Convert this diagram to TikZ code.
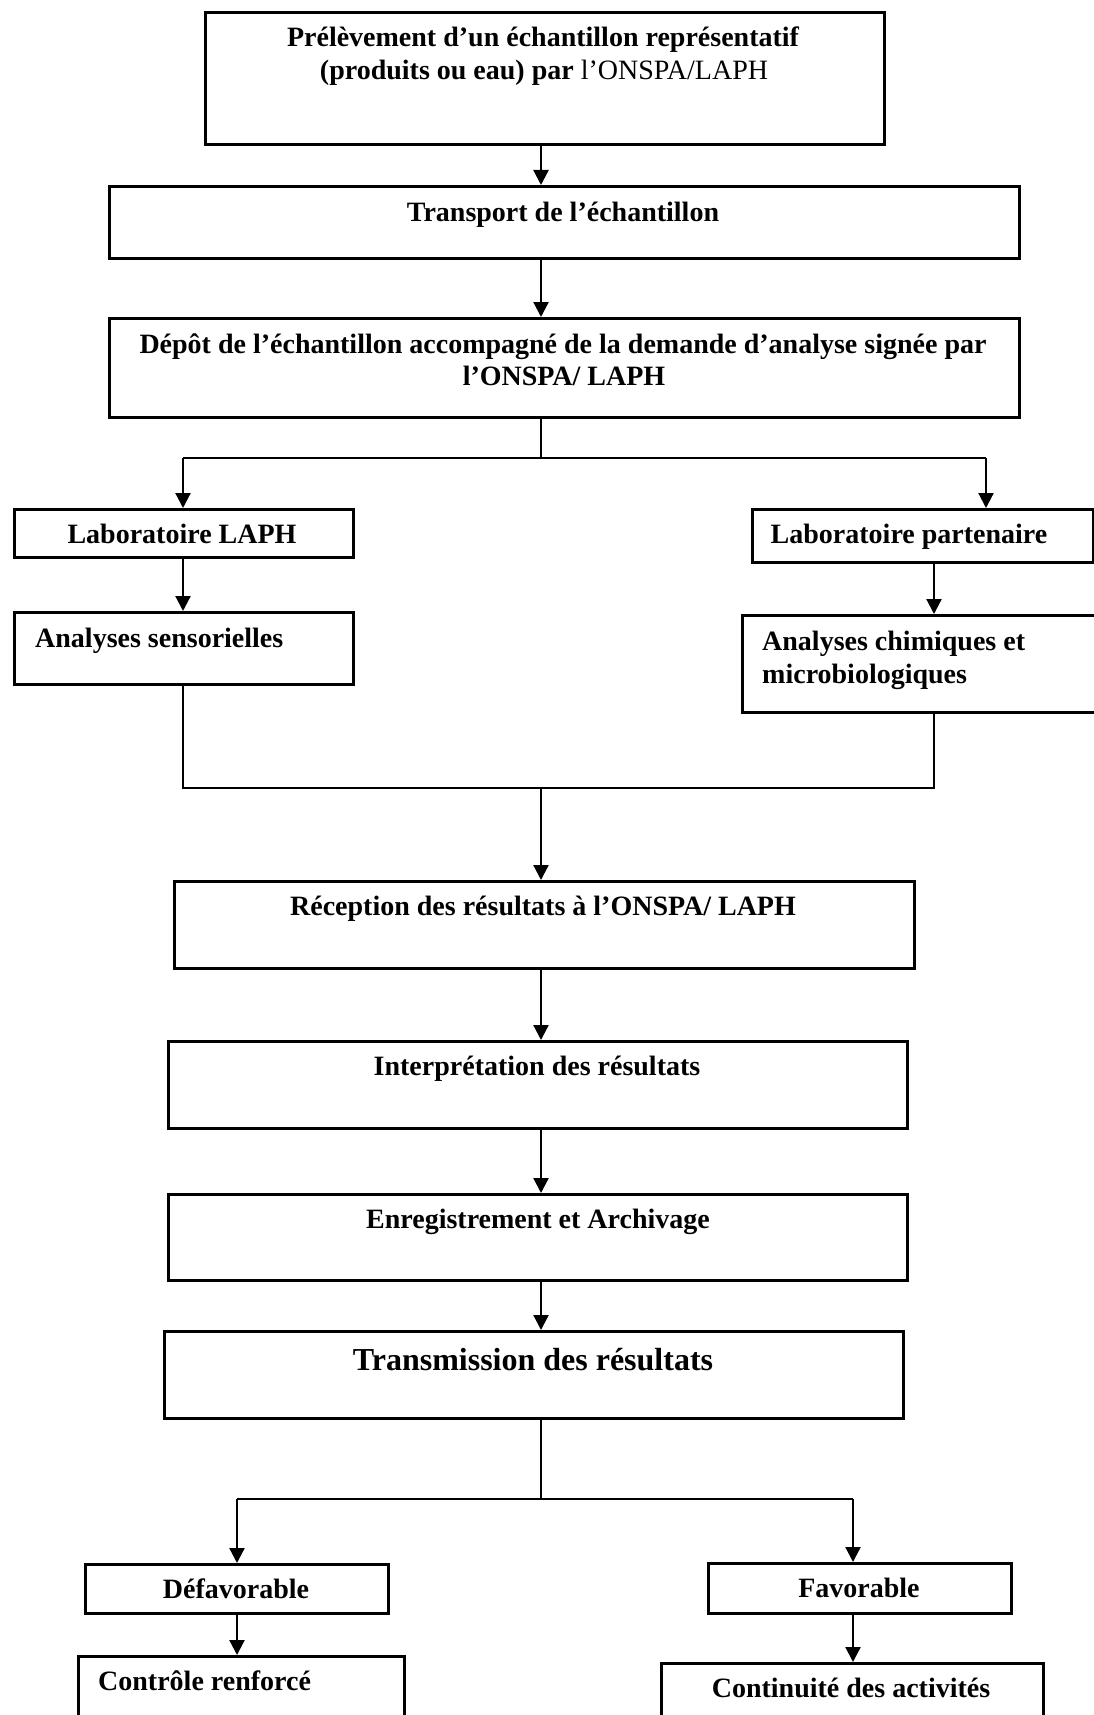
\documentclass[tikz,border=0pt]{standalone}
\usepackage{fontspec}
\setmainfont{Liberation Serif}
\usetikzlibrary{arrows.meta}
\begin{document}
\begin{tikzpicture}[x=1pt,y=-1pt,
  box/.style={draw, line width=2.6pt, rectangle, inner sep=0pt, anchor=north west},
  lbl/.style={font=\fontsize{28}{33}\selectfont\bfseries, inner sep=0pt, anchor=base},
  lblw/.style={lbl, anchor=base west},
  conn/.style={line width=2.2pt},
  arr/.style={line width=2.2pt, -{Triangle[length=15pt,width=15pt]}}]
\useasboundingbox (0,0) rectangle (1094,1715);
\fill[white] (0,0) rectangle (1094,1715);
\clip (0,0) rectangle (1094,1715);
% boxes
\node[box, minimum width=679pt, minimum height=132pt] (b1) at (204,11) {};
\node[box, minimum width=910pt, minimum height=72pt] (b2) at (108,185) {};
\node[box, minimum width=910pt, minimum height=99pt] (b3) at (108,317) {};
\node[box, minimum width=339pt, minimum height=48pt] (laph) at (13,508) {};
\node[box, minimum width=341pt, minimum height=53pt] (part) at (751,508) {};
\node[box, minimum width=339pt, minimum height=72pt] (sens) at (13,611) {};
\node[box, minimum width=370pt, minimum height=97pt] (chim) at (741,614) {};
\node[box, minimum width=740pt, minimum height=87pt] (rec) at (173,880) {};
\node[box, minimum width=739pt, minimum height=87pt] (interp) at (167,1040) {};
\node[box, minimum width=739pt, minimum height=86pt] (enreg) at (167,1193) {};
\node[box, minimum width=739pt, minimum height=87pt] (trans) at (163,1330) {};
\node[box, minimum width=303pt, minimum height=49pt] (def) at (84,1563) {};
\node[box, minimum width=303pt, minimum height=50pt] (fav) at (707,1562) {};
\node[box, minimum width=326pt, minimum height=90pt] (ctrl) at (77,1655) {};
\node[box, minimum width=382pt, minimum height=90pt] (cont) at (660,1662) {};
% texts
\node[lbl] (t1a) at (543,47) {Prélèvement d’un échantillon représentatif};
\node[lbl] (t1b) at (544,80) {(produits ou eau) par \mdseries l’ONSPA/LAPH};
\node[lbl] (t2) at (563,222) {Transport de l’échantillon};
\node[lbl] (t3a) at (563,353) {Dépôt de l’échantillon accompagné de la demande d’analyse signée par};
\node[lbl] (t3b) at (564,385) {l’ONSPA/ LAPH};
\node[lbl] (tlaph) at (182,543) {Laboratoire LAPH};
\node[lbl] (tpart) at (909,543) {Laboratoire partenaire};
\node[lblw] (tsens) at (35,647) {Analyses sensorielles};
\node[lblw] (tchim1) at (762,650) {Analyses chimiques et};
\node[lblw] (tchim2) at (762,683) {microbiologiques};
\node[lbl] (trec) at (543,915) {Réception des résultats à l’ONSPA/ LAPH};
\node[lbl] (tint) at (537,1075) {Interprétation des résultats};
\node[lbl] (tenr) at (538,1228) {Enregistrement et Archivage};
\node[lbl, font=\fontsize{32}{38}\selectfont\bfseries] (ttrans) at (533,1370) {Transmission des résultats};
\node[lbl] (tdef) at (236,1598) {Défavorable};
\node[lbl] (tfav) at (859,1597) {Favorable};
\node[lblw] (tctrl) at (98,1690) {Contrôle renforcé};
\node[lbl] (tcont) at (851,1697) {Continuité des activités};
% connector coordinates
\coordinate (sp) at (541,0);
\coordinate (j1) at (541,458);
\coordinate (jL) at (183,458);
\coordinate (jR) at (986,458);
\coordinate (cx) at (934,0);
\coordinate (mL) at (183,788);
\coordinate (mR) at (934,788);
\coordinate (bL) at (237,1499);
\coordinate (bR) at (853,1499);
% connectors
\draw[arr] (b1.south -| sp) -- (b2.north -| sp);
\draw[arr] (b2.south -| sp) -- (b3.north -| sp);
\draw[conn] (b3.south -| sp) -- (j1);
\draw[conn] (jL) -- (jR);
\draw[arr] (jL) -- (jL |- laph.north);
\draw[arr] (jR) -- (jR |- part.north);
\draw[arr] (laph.south -| jL) -- (sens.north -| jL);
\draw[arr] (part.south -| cx) -- (chim.north -| cx);
\draw[conn] (sens.south -| mL) -- (mL) -- (mR) -- (chim.south -| mR);
\draw[arr] (mL -| sp) -- (rec.north -| sp);
\draw[arr] (rec.south -| sp) -- (interp.north -| sp);
\draw[arr] (interp.south -| sp) -- (enreg.north -| sp);
\draw[arr] (enreg.south -| sp) -- (trans.north -| sp);
\draw[conn] (trans.south -| sp) -- (bL -| sp);
\draw[conn] (bL) -- (bR);
\draw[arr] (bL) -- (bL |- def.north);
\draw[arr] (bR) -- (bR |- fav.north);
\draw[arr] (def.south -| bL) -- (ctrl.north -| bL);
\draw[arr] (fav.south -| bR) -- (cont.north -| bR);
\end{tikzpicture}
\end{document}
